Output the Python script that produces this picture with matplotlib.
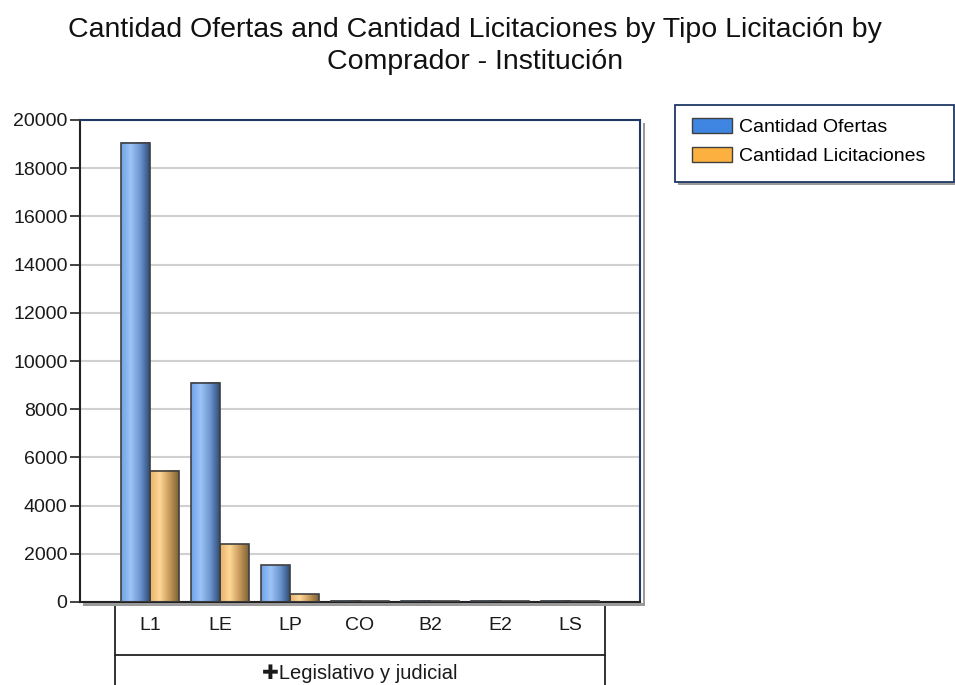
import numpy as np
import matplotlib
matplotlib.use("Agg")
import matplotlib.pyplot as plt
from matplotlib.patches import Rectangle, Patch
from matplotlib.colors import LinearSegmentedColormap
import matplotlib.transforms as mtransforms

plt.rcParams['font.family'] = ['Liberation Sans', 'DejaVu Sans']

categories = ["L1", "LE", "LP", "CO", "B2", "E2", "LS"]
ofertas = [19050, 9100, 1530, 60, 50, 50, 50]
licitaciones = [5450, 2400, 330, 40, 30, 30, 30]
series_names = ["Cantidad Ofertas", "Cantidad Licitaciones"]
group_label = "Legislativo y judicial"
title = "Cantidad Ofertas and Cantidad Licitaciones by Tipo Licitación by\nComprador - Institución"
yticks = list(range(0, 20001, 2000))

W, H = 955, 685
fig = plt.figure(figsize=(W / 100, H / 100), dpi=100)
ax = fig.add_axes([80 / W, 1 - 602 / H, 560 / W, 482 / H])

blue_cmap = LinearSegmentedColormap.from_list("b", ["#6fa3ea", "#9cc4f7", "#6d96cf", "#2e4d7c"])
orange_cmap = LinearSegmentedColormap.from_list("o", ["#e8b26a", "#ffd898", "#c99c5c", "#7f6235"])
grad = np.linspace(0, 1, 64).reshape(1, -1)

x = np.arange(len(categories))
bw = 0.41
for xi, vo, vl in zip(x, ofertas, licitaciones):
    for x0, v, cm in ((xi - bw, vo, blue_cmap), (xi, vl, orange_cmap)):
        ax.imshow(grad, extent=[x0, x0 + bw, 0, v], aspect='auto', cmap=cm,
                  origin='lower', zorder=2, interpolation='bilinear')
ax.bar(x - bw / 2, ofertas, bw, facecolor='none', edgecolor='#404040', linewidth=1.2, zorder=3)
ax.bar(x + bw / 2, licitaciones, bw, facecolor='none', edgecolor='#404040', linewidth=1.2, zorder=3)

ax.set_xlim(-1, 7)
ax.set_ylim(0, 20000)
ax.set_yticks(yticks)
ax.set_yticklabels([str(t) for t in yticks], fontsize=14, color='#1a1a1a')
ax.set_xticks([])
ax.tick_params(axis='y', direction='out', length=7, width=1.2, color='#222222', pad=2)
ax.yaxis.grid(True, color='#d0d0d0', linewidth=1.5, zorder=0)
ax.set_axisbelow(True)

ax.spines['left'].set_color('#222222')
ax.spines['left'].set_linewidth(1.5)
ax.spines['bottom'].set_color('#222222')
ax.spines['bottom'].set_linewidth(1.5)
ax.spines['top'].set_color('#1f3864')
ax.spines['top'].set_linewidth(1.5)
ax.spines['right'].set_color('#1f3864')
ax.spines['right'].set_linewidth(1.5)

# shadow for plot frame
fig.patches.append(Rectangle((643 / W, 1 - 605 / H), 2 / W, 482 / H, transform=fig.transFigure,
                             facecolor='#9a9a9a', edgecolor='none', zorder=0))
fig.patches.append(Rectangle((83 / W, 1 - 606 / H), 562 / W, 3 / H, transform=fig.transFigure,
                             facecolor='#9a9a9a', edgecolor='none', zorder=0))

# category table below
trans = mtransforms.blended_transform_factory(ax.transData, ax.transAxes)
for c, xi in zip(categories, x):
    ax.text(xi, -0.048, c, transform=trans, ha='center', va='center', fontsize=14, color='#1a1a1a')
for xv in (-0.5, 6.5):
    ax.plot([xv, xv], [0, -0.2], transform=trans, color='#222222', lw=1.3, clip_on=False)
ax.plot([-0.5, 6.5], [-0.11, -0.11], transform=trans, color='#222222', lw=1.3, clip_on=False)
ax.text(3.0, -0.148, "\u271a" + group_label, transform=trans, ha='center', va='center',
        fontsize=14.5, color='#1a1a1a', family=['Liberation Sans', 'DejaVu Sans'])

# title
fig.text(0.497, 1 - 17 / H, title, ha='center', va='top', fontsize=20.5, color='#111111',
         linespacing=1.28)

# legend
fig.patches.append(Rectangle((675 / W, 1 - 182 / H), 279 / W, 77 / H, transform=fig.transFigure,
                             facecolor='white', edgecolor='#1f3864', linewidth=1.3, zorder=1))
fig.patches.append(Rectangle((678 / W, 1 - 185 / H), 277 / W, 3 / H, transform=fig.transFigure,
                             facecolor='#9a9a9a', edgecolor='none', zorder=0))
leg = fig.legend(handles=[Patch(facecolor='#3f86e2', edgecolor='#404040', label=series_names[0]),
                          Patch(facecolor='#fbb03f', edgecolor='#404040', label=series_names[1])],
                 loc='upper left', bbox_to_anchor=(692 / W, 1 - 118 / H), fontsize=14,
                 frameon=False, borderpad=0, handlelength=2.05, handleheight=0.8,
                 handletextpad=0.35, labelspacing=0.55, borderaxespad=0)

fig.savefig("out.png", dpi=100)
